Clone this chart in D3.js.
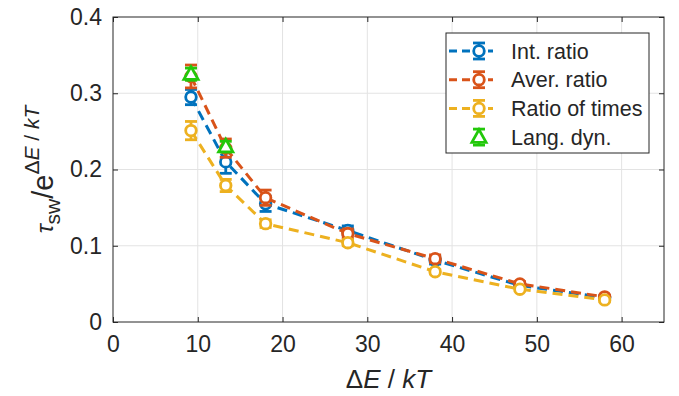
<!DOCTYPE html>
<html>
<head>
<meta charset="utf-8">
<script src="https://cdn.jsdelivr.net/npm/d3@7"></script>
<style>
  html, body { margin: 0; padding: 0; background: #fff; }
  svg { display: block; font-family: "Liberation Sans", Arial, Helvetica, sans-serif; }
</style>
</head>
<body>
<svg id="chart" width="679" height="396"></svg>
<script>
// Switching time normalised by the Arrhenius factor, vs barrier height
const energies = [9.2, 13.3, 18, 27.7, 38, 48, 58];
const intRatio = [0.295, 0.21, 0.155, 0.12, 0.081, 0.048, 0.032];
const intRatioErr = [0.01, 0.015, 0.01, 0.006, 0.005, 0.003, 0.002];
const averRatio = [0.322, 0.228, 0.163, 0.116, 0.083, 0.05, 0.033];
const averRatioErr = [0.015, 0.012, 0.01, 0.006, 0.005, 0.003, 0.002];
const timesRatio = [0.251, 0.179, 0.129, 0.104, 0.066, 0.043, 0.029];
const timesRatioErr = [0.012, 0.008, 0.005, 0.004, 0.003, 0.002, 0.002];
const langEnergies = [9.2, 13.3];
const langDyn = [0.325, 0.23];
const langDynErr = [0.008, 0.007];

const xTicks = [0, 10, 20, 30, 40, 50, 60];
const yTicks = [0, 0.1, 0.2, 0.3, 0.4];
const seriesNames = ["Int. ratio", "Aver. ratio", "Ratio of times", "Lang. dyn."];
const seriesColors = ["#0072BD", "#D95319", "#EDB120", "#22C80A"];

const svg = d3.select("#chart");
const L = 113, R = 664, T = 17, B = 322;
const x = d3.scaleLinear().domain([0, 65]).range([L, R]);
const y = d3.scaleLinear().domain([0, 0.4]).range([B, T]);
const axisColor = "#262626";

// grid
const grid = svg.append("g");
grid.selectAll("line.gx").data(xTicks.filter(t => t > 0)).join("line")
  .attr("x1", d => x(d)).attr("x2", d => x(d)).attr("y1", T).attr("y2", B)
  .attr("stroke", "#e3e3e3").attr("stroke-width", 1);
grid.selectAll("line.gy").data(yTicks.filter(t => t > 0 && t < 0.4)).join("line")
  .attr("x1", L).attr("x2", R).attr("y1", d => y(d)).attr("y2", d => y(d))
  .attr("stroke", "#e3e3e3").attr("stroke-width", 1);

// axes (ticks pointing inward)
const fmtY = d => d === 0 ? "0" : d3.format(".1f")(d);
const xAxis = svg.append("g").attr("transform", `translate(0,${B})`)
  .call(d3.axisBottom(x).tickValues(xTicks).tickSizeInner(-5).tickSizeOuter(0).tickPadding(14));
const yAxis = svg.append("g").attr("transform", `translate(${L},0)`)
  .call(d3.axisLeft(y).tickValues(yTicks).tickFormat(fmtY).tickSizeInner(-5).tickSizeOuter(0).tickPadding(11));
const xTop = svg.append("g").attr("transform", `translate(0,${T})`)
  .call(d3.axisTop(x).tickValues(xTicks).tickSizeInner(-5).tickSizeOuter(0).tickFormat(""));
const yRight = svg.append("g").attr("transform", `translate(${R},0)`)
  .call(d3.axisRight(y).tickValues(yTicks).tickSizeInner(-5).tickSizeOuter(0).tickFormat(""));
[xAxis, yAxis, xTop, yRight].forEach(g => {
  g.select(".domain").remove();
  g.selectAll(".tick line").attr("stroke", axisColor);
  g.selectAll(".tick text").attr("fill", axisColor)
    .style("font-family", "'Liberation Sans', Arial, sans-serif").style("font-size", "23px");
});
svg.append("rect").attr("x", L).attr("y", T).attr("width", R - L).attr("height", B - T)
  .attr("fill", "none").attr("stroke", axisColor).attr("stroke-width", 1);

// series
const series = [
  { xs: energies, ys: intRatio, es: intRatioErr, marker: "circle", line: true },
  { xs: energies, ys: averRatio, es: averRatioErr, marker: "circle", line: true },
  { xs: energies, ys: timesRatio, es: timesRatioErr, marker: "circle", line: true },
  { xs: langEnergies, ys: langDyn, es: langDynErr, marker: "triangle", line: false }
];
const lineGen = d3.line().x(d => x(d[0])).y(d => y(d[1]));
const triPath = (cx, cy, s) => `M${cx},${cy - s}L${cx + s * 0.95},${cy + s * 0.7}L${cx - s * 0.95},${cy + s * 0.7}Z`;

function drawMarker(g, cx, cy, color, marker) {
  if (marker === "circle") {
    g.append("circle").attr("cx", cx).attr("cy", cy).attr("r", 5.3)
      .attr("fill", "#fff").attr("stroke", color).attr("stroke-width", 2.8);
  } else {
    g.append("path").attr("d", triPath(cx, cy, 7.5))
      .attr("fill", "#fff").attr("stroke", color).attr("stroke-width", 2.8)
      .attr("stroke-linejoin", "miter");
  }
}
function drawErr(g, cx, y1, y2, color) {
  g.append("line").attr("x1", cx).attr("x2", cx).attr("y1", y1).attr("y2", y2)
    .attr("stroke", color).attr("stroke-width", 2.8);
  [y1, y2].forEach(yy => g.append("line").attr("x1", cx - 6).attr("x2", cx + 6)
    .attr("y1", yy).attr("y2", yy).attr("stroke", color).attr("stroke-width", 2.8));
}

series.forEach((s, i) => {
  const color = seriesColors[i];
  const g = svg.append("g");
  const pts = s.xs.map((v, j) => [v, s.ys[j]]);
  if (s.line) {
    g.append("path").attr("d", lineGen(pts)).attr("fill", "none")
      .attr("stroke", color).attr("stroke-width", 3).attr("stroke-dasharray", "10,6");
  }
  pts.forEach((p, j) => {
    drawErr(g, x(p[0]), y(p[1] + s.es[j]), y(p[1] - s.es[j]), color);
  });
  pts.forEach(p => drawMarker(g, x(p[0]), y(p[1]), color, s.marker));
});

// legend
const lg = svg.append("g");
lg.append("rect").attr("x", 446).attr("y", 33).attr("width", 203).attr("height", 120)
  .attr("fill", "#fff").attr("stroke", axisColor).attr("stroke-width", 1);
series.forEach((s, i) => {
  const cy = 51 + i * 28.7;
  const color = seriesColors[i];
  if (s.line) {
    lg.append("line").attr("x1", 449).attr("x2", 493).attr("y1", cy).attr("y2", cy)
      .attr("stroke", color).attr("stroke-width", 3).attr("stroke-dasharray", "8,5");
  }
  drawErr(lg, 479, cy - 8, cy + 8, color);
  drawMarker(lg, 479, cy, color, s.marker);
  lg.append("text").attr("x", 511).attr("y", cy).attr("dy", "0.36em")
    .attr("fill", axisColor).style("font-size", "21.5px").text(seriesNames[i]);
});

// axis titles
const xl = svg.append("text").attr("x", (L + R) / 2).attr("y", 388)
  .attr("text-anchor", "middle").attr("fill", axisColor).style("font-size", "26px");
xl.append("tspan").text("Δ");
xl.append("tspan").style("font-style", "italic").text("E");
xl.append("tspan").text(" / ");
xl.append("tspan").style("font-style", "italic").text("kT");

const yl = svg.append("text").attr("transform", `translate(53,${(T + B) / 2}) rotate(-90)`)
  .attr("text-anchor", "middle").attr("fill", axisColor).style("font-size", "29px");
yl.append("tspan").style("font-style", "italic").style("font-size", "24px").text("τ");
yl.append("tspan").attr("dy", 7).style("font-size", "21px").text("sw");
yl.append("tspan").attr("dy", -7).text("/e");
yl.append("tspan").attr("dy", -14).style("font-size", "21px").text("Δ");
yl.append("tspan").style("font-size", "21px").style("font-style", "italic").text("E");
yl.append("tspan").style("font-size", "21px").text(" / ");
yl.append("tspan").style("font-size", "21px").style("font-style", "italic").text("kT");
</script>
</body>
</html>
